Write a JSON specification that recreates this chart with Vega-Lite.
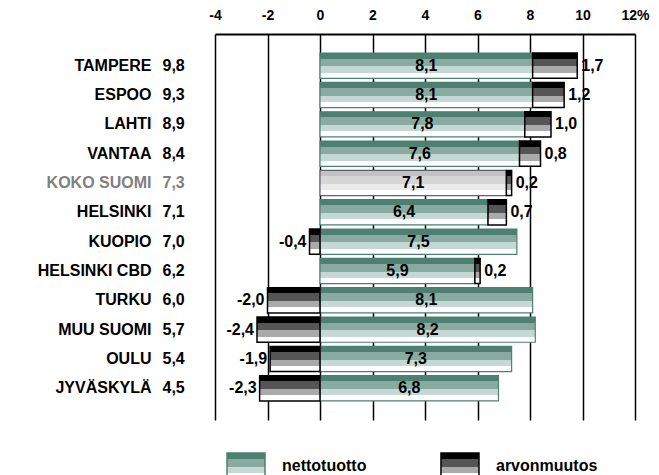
{
  "$schema": "https://vega.github.io/schema/vega-lite/v6.json",
  "padding": {"left": 37, "top": 8, "right": 10, "bottom": 0},
  "background": "#ffffff",
  "config": {
    "view": {"stroke": null},
    "font": "Liberation Sans",
    "locale": {
      "number": {"decimal": ",", "thousands": " ", "grouping": [3], "currency": ["", " €"], "minus": "-"}
    }
  },
  "bounds": "flush",
  "spacing": 33,
  "datasets": {
    "kaupungit": [
      {"city": "TAMPERE", "order": 1, "total": 9.8, "netto": 8.1, "arvo": 1.7},
      {"city": "ESPOO", "order": 2, "total": 9.3, "netto": 8.1, "arvo": 1.2},
      {"city": "LAHTI", "order": 3, "total": 8.9, "netto": 7.8, "arvo": 1.0},
      {"city": "VANTAA", "order": 4, "total": 8.4, "netto": 7.6, "arvo": 0.8},
      {"city": "KOKO SUOMI", "order": 5, "total": 7.3, "netto": 7.1, "arvo": 0.2},
      {"city": "HELSINKI", "order": 6, "total": 7.1, "netto": 6.4, "arvo": 0.7},
      {"city": "KUOPIO", "order": 7, "total": 7.0, "netto": 7.5, "arvo": -0.4},
      {"city": "HELSINKI CBD", "order": 8, "total": 6.2, "netto": 5.9, "arvo": 0.2},
      {"city": "TURKU", "order": 9, "total": 6.0, "netto": 8.1, "arvo": -2.0},
      {"city": "MUU SUOMI", "order": 10, "total": 5.7, "netto": 8.2, "arvo": -2.4},
      {"city": "OULU", "order": 11, "total": 5.4, "netto": 7.3, "arvo": -1.9},
      {"city": "JYVÄSKYLÄ", "order": 12, "total": 4.5, "netto": 6.8, "arvo": -2.3}
    ],
    "selite": [
      {"series": "nettotuotto"},
      {"series": "arvonmuutos"}
    ]
  },
  "vconcat": [
    {
      "width": 420,
      "height": 386,
      "data": {"name": "kaupungit"},
      "transform": [
        {"calculate": "datum.arvo > 0 ? datum.netto : 0", "as": "a0"},
        {"calculate": "datum.a0 + datum.arvo", "as": "a1"},
        {"calculate": "datum.netto / 2", "as": "mid"}
      ],
      "encoding": {
        "y": {
          "field": "city",
          "type": "nominal",
          "sort": {"field": "order", "op": "min"},
          "scale": {"paddingInner": 0.14, "paddingOuter": 0.65},
          "axis": {
            "orient": "left",
            "title": null,
            "domain": false,
            "ticks": false,
            "grid": false,
            "labelPadding": 64,
            "labelLimit": 300,
            "labelFontSize": 16,
            "labelFontWeight": "bold",
            "labelColor": {"condition": {"test": "datum.value === 'KOKO SUOMI'", "value": "#808080"}, "value": "#000000"}
          }
        }
      },
      "layer": [
        {
          "mark": {"type": "bar", "strokeWidth": 1.2},
          "encoding": {
            "x": {
              "field": "netto",
              "type": "quantitative",
              "title": null,
              "scale": {"domain": [-4, 12], "nice": false, "zero": false},
              "axis": {
                "orient": "top",
                "title": null,
                "values": [-4, -2, 0, 2, 4, 6, 8, 10, 12],
                "labelExpr": "datum.value === 12 ? '12%' : datum.label",
                "ticks": false,
                "grid": true,
                "gridColor": "#000000",
                "gridWidth": 1.5,
                "gridOpacity": 1,
                "domain": true,
                "domainColor": "#000000",
                "domainWidth": 2,
                "labelFontSize": 14,
                "labelFontWeight": "bold",
                "labelColor": "#000000",
                "labelPadding": 12,
                "labelFlush": false,
                "labelOverlap": false
              }
            },
            "x2": {"datum": 0},
            "fill": {
              "condition": {
                "test": "datum.city === 'KOKO SUOMI'",
                "value": {"gradient": "linear", "x1": 0, "y1": 0, "x2": 0, "y2": 1, "stops": [
                  {"offset": 0, "color": "#c2c2c2"}, {"offset": 0.22, "color": "#c2c2c2"},
                  {"offset": 0.22, "color": "#d6d6d6"}, {"offset": 0.53, "color": "#d6d6d6"},
                  {"offset": 0.53, "color": "#eaeaea"}, {"offset": 0.78, "color": "#eaeaea"},
                  {"offset": 0.78, "color": "#ffffff"}, {"offset": 1, "color": "#ffffff"}
                ]}
              },
              "value": {"gradient": "linear", "x1": 0, "y1": 0, "x2": 0, "y2": 1, "stops": [
                {"offset": 0, "color": "#4d8070"}, {"offset": 0.22, "color": "#4d8070"},
                {"offset": 0.22, "color": "#88aa9f"}, {"offset": 0.53, "color": "#88aa9f"},
                {"offset": 0.53, "color": "#c6d8d3"}, {"offset": 0.78, "color": "#c6d8d3"},
                {"offset": 0.78, "color": "#ffffff"}, {"offset": 1, "color": "#ffffff"}
              ]}
            },
            "stroke": {
              "condition": {"test": "datum.city === 'KOKO SUOMI'", "value": "#5e636a"},
              "value": "#4d8070"
            }
          }
        },
        {
          "mark": {"type": "bar", "stroke": "#000000", "strokeWidth": 1.5},
          "encoding": {
            "x": {"field": "a0", "type": "quantitative", "title": null},
            "x2": {"field": "a1"},
            "fill": {
              "value": {"gradient": "linear", "x1": 0, "y1": 0, "x2": 0, "y2": 1, "stops": [
                {"offset": 0, "color": "#000000"}, {"offset": 0.22, "color": "#000000"},
                {"offset": 0.22, "color": "#555555"}, {"offset": 0.53, "color": "#555555"},
                {"offset": 0.53, "color": "#aaaaaa"}, {"offset": 0.78, "color": "#aaaaaa"},
                {"offset": 0.78, "color": "#ffffff"}, {"offset": 1, "color": "#ffffff"}
              ]}
            }
          }
        },
        {
          "mark": {"type": "text", "fontSize": 16, "fontWeight": "bold", "color": "#000000", "baseline": "middle"},
          "encoding": {
            "x": {"field": "mid", "type": "quantitative", "title": null},
            "text": {"field": "netto", "type": "quantitative", "format": ".1f"}
          }
        },
        {
          "transform": [{"filter": "datum.arvo > 0"}],
          "mark": {"type": "text", "fontSize": 16, "fontWeight": "bold", "color": "#000000", "baseline": "middle", "align": "left", "dx": 4},
          "encoding": {
            "x": {"field": "a1", "type": "quantitative", "title": null},
            "text": {"field": "arvo", "type": "quantitative", "format": ".1f"}
          }
        },
        {
          "transform": [{"filter": "datum.arvo < 0"}],
          "mark": {"type": "text", "fontSize": 16, "fontWeight": "bold", "color": "#000000", "baseline": "middle", "align": "right", "dx": -3},
          "encoding": {
            "x": {"field": "a1", "type": "quantitative", "title": null},
            "text": {"field": "arvo", "type": "quantitative", "format": ".1f"}
          }
        },
        {
          "mark": {"type": "text", "fontSize": 16, "fontWeight": "bold", "baseline": "middle", "align": "left"},
          "encoding": {
            "x": {"datum": -6},
            "text": {"field": "total", "type": "quantitative", "format": ".1f"},
            "color": {
              "condition": {"test": "datum.city === 'KOKO SUOMI'", "value": "#808080"},
              "value": "#000000"
            }
          }
        }
      ]
    },
    {
      "width": 276,
      "height": 26,
      "data": {"name": "selite"},
      "encoding": {
        "x": {
          "field": "series",
          "type": "nominal",
          "sort": ["nettotuotto", "arvonmuutos"],
          "scale": {"type": "point", "padding": 0.145},
          "axis": null
        }
      },
      "layer": [
        {
          "mark": {"type": "bar", "width": 38, "strokeWidth": 1.5},
          "encoding": {
            "fill": {
              "condition": {
                "test": "datum.series === 'arvonmuutos'",
                "value": {"gradient": "linear", "x1": 0, "y1": 0, "x2": 0, "y2": 1, "stops": [
                  {"offset": 0, "color": "#000000"}, {"offset": 0.22, "color": "#000000"},
                  {"offset": 0.22, "color": "#555555"}, {"offset": 0.53, "color": "#555555"},
                  {"offset": 0.53, "color": "#aaaaaa"}, {"offset": 0.78, "color": "#aaaaaa"},
                  {"offset": 0.78, "color": "#ffffff"}, {"offset": 1, "color": "#ffffff"}
                ]}
              },
              "value": {"gradient": "linear", "x1": 0, "y1": 0, "x2": 0, "y2": 1, "stops": [
                {"offset": 0, "color": "#4d8070"}, {"offset": 0.22, "color": "#4d8070"},
                {"offset": 0.22, "color": "#88aa9f"}, {"offset": 0.53, "color": "#88aa9f"},
                {"offset": 0.53, "color": "#c6d8d3"}, {"offset": 0.78, "color": "#c6d8d3"},
                {"offset": 0.78, "color": "#ffffff"}, {"offset": 1, "color": "#ffffff"}
              ]}
            },
            "stroke": {
              "condition": {"test": "datum.series === 'arvonmuutos'", "value": "#000000"},
              "value": "#4d8070"
            }
          }
        },
        {
          "mark": {"type": "text", "align": "left", "baseline": "middle", "dx": 36, "fontSize": 16, "fontWeight": "bold", "color": "#000000"},
          "encoding": {
            "text": {"field": "series", "type": "nominal"}
          }
        }
      ]
    }
  ]
}
